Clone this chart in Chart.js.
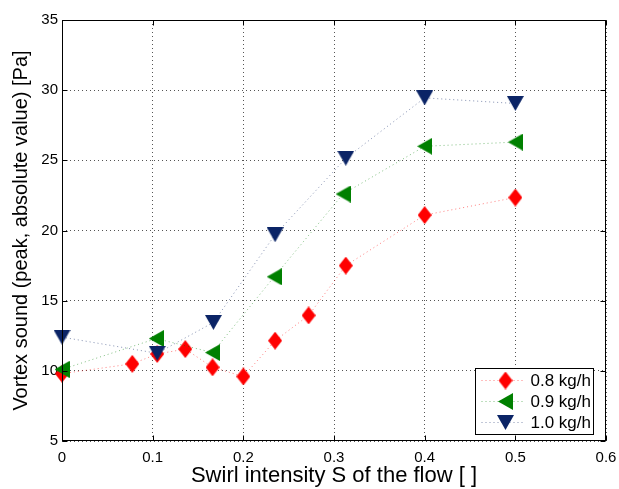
<!DOCTYPE html>
<html>
<head>
<meta charset="utf-8">
<script src="https://cdn.jsdelivr.net/npm/chart.js@4.4.1/dist/chart.umd.min.js"></script>
<style>
html, body { margin: 0; padding: 0; background: #fff; }
</style>
</head>
<body>
<canvas id="vortexChart" width="619" height="489"></canvas>
<script>
// tick labels
var xTicks = [0, 0.1, 0.2, 0.3, 0.4, 0.5, 0.6];
var xTickLabels = ['0', '0.1', '0.2', '0.3', '0.4', '0.5', '0.6'];
var yTicks = [5, 10, 15, 20, 25, 30, 35];
var yTickLabels = ['5', '10', '15', '20', '25', '30', '35'];

// series
var labels = ['0.8 kg/h', '0.9 kg/h', '1.0 kg/h'];
var swirl08 = [0, 0.0775, 0.105, 0.136, 0.166, 0.2, 0.235, 0.272, 0.313, 0.4, 0.5];
var sound08 = [9.8, 10.5, 11.2, 11.55, 10.25, 9.6, 12.15, 13.95, 17.5, 21.1, 22.35];
var swirl09 = [0, 0.104, 0.166, 0.234, 0.31, 0.4, 0.5];
var sound09 = [10.1, 12.3, 11.3, 16.7, 22.6, 26.0, 26.3];
var swirl10 = [0, 0.105, 0.167, 0.235, 0.313, 0.4, 0.5];
var sound10 = [12.4, 11.25, 13.45, 19.7, 25.15, 29.45, 29.05];

var colores = ['#ff0000', '#008000', '#0b2466'];
var lineas = ['rgba(255,0,0,0.5)', 'rgba(0,128,0,0.5)', 'rgba(11,36,102,0.5)'];

function toPoints(xs, ys)
{
    var out = [];
    for (var i = 0; i < xs.length; i++) {
        out.push({ x: xs[i], y: ys[i] });
    }
    return out;
}

function makeMarker(tipo, color)
{
    var c = document.createElement('canvas');
    var g;
    if (tipo == 'diamond') {
        c.width = 14; c.height = 18;
        g = c.getContext('2d');
        g.beginPath();
        g.moveTo(7, 0); g.lineTo(14, 9); g.lineTo(7, 18); g.lineTo(0, 9);
    } else if (tipo == 'left') {
        c.width = 15; c.height = 17;
        g = c.getContext('2d');
        g.beginPath();
        g.moveTo(0, 8.5); g.lineTo(15, 0); g.lineTo(15, 17);
    } else {
        c.width = 17; c.height = 15;
        g = c.getContext('2d');
        g.beginPath();
        g.moveTo(0, 0); g.lineTo(17, 0); g.lineTo(8.5, 15);
    }
    g.closePath();
    g.fillStyle = color;
    g.fill();
    return c;
}

var marcadores = [
    makeMarker('diamond', colores[0]),
    makeMarker('left', colores[1]),
    makeMarker('down', colores[2])
];

// frame, inward ticks and legend like the matlab figure
var marcoPlugin = {
    id: 'marco',
    afterDraw: function(chart)
    {
        var ctx = chart.ctx;
        var a = chart.chartArea;
        var sx = chart.scales.x;
        var sy = chart.scales.y;
        var L = Math.round(a.left) + 0.5, R = Math.round(a.right) - 0.5;
        var T = Math.round(a.top) + 0.5, B = Math.round(a.bottom) - 0.5;
        var i, p;

        ctx.save();
        ctx.strokeStyle = '#000';
        ctx.lineWidth = 1;
        ctx.setLineDash([]);
        ctx.strokeRect(L, T, R - L, B - T);

        ctx.beginPath();
        for (i = 0; i < xTicks.length; i++) {
            p = Math.round(sx.getPixelForValue(xTicks[i])) + 0.5;
            ctx.moveTo(p, B); ctx.lineTo(p, B - 5);
            ctx.moveTo(p, T); ctx.lineTo(p, T + 5);
        }
        for (i = 0; i < yTicks.length; i++) {
            p = Math.round(sy.getPixelForValue(yTicks[i])) + 0.5;
            ctx.moveTo(L, p); ctx.lineTo(L + 5, p);
            ctx.moveTo(R, p); ctx.lineTo(R - 5, p);
        }
        ctx.stroke();

        // legend
        var bw = 118, bh = 66;
        var bx = Math.round(a.right) - 13 - bw + 0.5;
        var by = Math.round(a.bottom) - 7 - bh + 0.5;
        ctx.fillStyle = '#fff';
        ctx.fillRect(bx, by, bw, bh);
        ctx.strokeStyle = '#000';
        ctx.strokeRect(bx, by, bw, bh);

        ctx.font = '17px "Liberation Sans", Arial, sans-serif';
        ctx.textBaseline = 'middle';
        ctx.textAlign = 'left';
        for (i = 0; i < labels.length; i++) {
            var ry = by + 12 + i * 21;
            ctx.strokeStyle = lineas[i];
            ctx.setLineDash([1, 3]);
            ctx.beginPath();
            ctx.moveTo(bx + 6, ry); ctx.lineTo(bx + 50, ry);
            ctx.stroke();
            ctx.setLineDash([]);
            var m = marcadores[i];
            ctx.drawImage(m, bx + 30 - m.width / 2, ry - m.height / 2);
            ctx.fillStyle = '#000';
            ctx.fillText(labels[i], bx + 55, ry + 1);
        }
        ctx.restore();
    }
};

function dataset(idx, xs, ys)
{
    return {
        label: labels[idx],
        data: toPoints(xs, ys),
        borderColor: lineas[idx],
        backgroundColor: colores[idx],
        borderWidth: 1,
        borderDash: [1, 3],
        pointStyle: marcadores[idx],
        pointRadius: 8,
        showLine: true,
        clip: false,
        order: 3 - idx
    };
}

var fuenteTicks = { family: '"Liberation Sans", Arial, sans-serif', size: 15 };

var chart = new Chart(document.getElementById('vortexChart').getContext('2d'), {
    type: 'scatter',
    data: {
        datasets: [
            dataset(0, swirl08, sound08),
            dataset(1, swirl09, sound09),
            dataset(2, swirl10, sound10)
        ]
    },
    options: {
        responsive: false,
        animation: false,
        events: [],
        layout: { padding: { top: 20, right: 13, left: 0, bottom: 0 } },
        plugins: {
            legend: { display: false },
            tooltip: { enabled: false }
        },
        scales: {
            x: {
                type: 'linear',
                min: 0,
                max: 0.6,
                afterBuildTicks: function(scale) {
                    scale.ticks = xTicks.map(function(v) { return { value: v }; });
                },
                afterFit: function(scale) {
                    scale.height = 48;
                    scale.paddingLeft = 0;
                    scale.paddingRight = 0;
                },
                ticks: {
                    color: '#000',
                    font: fuenteTicks,
                    padding: 8,
                    maxRotation: 0,
                    callback: function(v, i) { return xTickLabels[i]; }
                },
                grid: { color: '#555', lineWidth: 1, drawTicks: false },
                border: { display: false, dash: [1, 3] },
                title: {
                    display: true,
                    text: 'Swirl intensity S of the flow [ ]',
                    color: '#000',
                    font: { family: '"Liberation Sans", Arial, sans-serif', size: 22 },
                    padding: { top: 0, bottom: 0 }
                }
            },
            y: {
                type: 'linear',
                min: 5,
                max: 35,
                afterBuildTicks: function(scale) {
                    scale.ticks = yTicks.map(function(v) { return { value: v }; });
                },
                afterFit: function(scale) {
                    scale.width = 62;
                    scale.paddingTop = 0;
                    scale.paddingBottom = 0;
                },
                ticks: {
                    color: '#000',
                    font: fuenteTicks,
                    padding: 4,
                    callback: function(v, i) { return yTickLabels[i]; }
                },
                grid: { color: '#555', lineWidth: 1, drawTicks: false },
                border: { display: false, dash: [1, 3] },
                title: {
                    display: true,
                    text: 'Vortex sound (peak, absolute value) [Pa]',
                    color: '#000',
                    font: { family: '"Liberation Sans", Arial, sans-serif', size: 20 },
                    padding: { top: 9, bottom: 0 }
                }
            }
        }
    },
    plugins: [marcoPlugin]
});
</script>
</body>
</html>
